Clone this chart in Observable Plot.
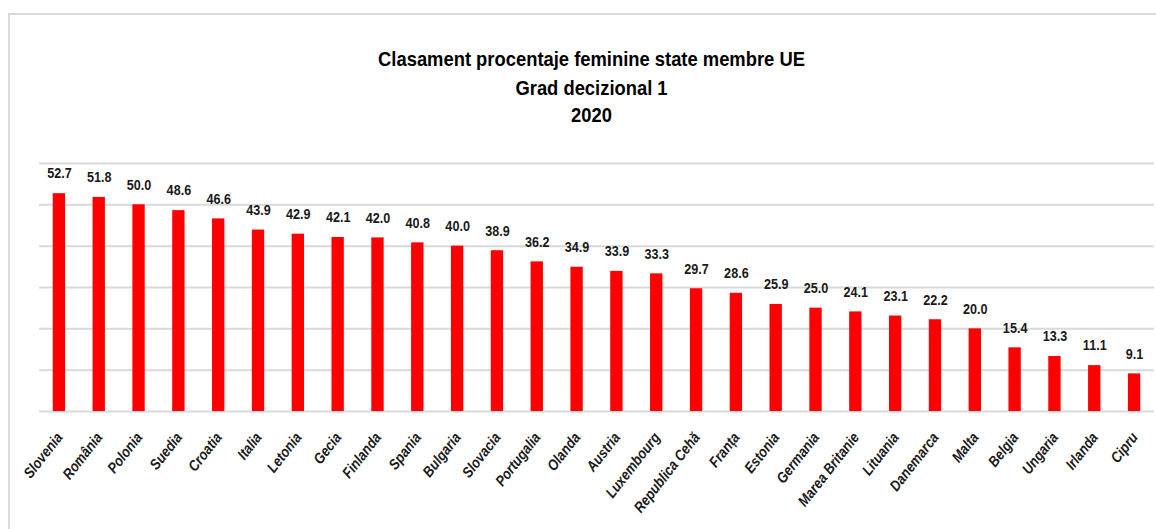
<!DOCTYPE html>
<html>
<head>
<meta charset="utf-8">
<script src="https://cdn.jsdelivr.net/npm/d3@7"></script>
<script src="https://cdn.jsdelivr.net/npm/@observablehq/plot@0.6"></script>
<style>
  html, body { margin: 0; padding: 0; background: #fff; overflow: hidden; }
  #wrap { position: relative; width: 1156px; height: 529px; }
  #border { position: absolute; left: 8px; top: 13px; width: 1300px; height: 700px;
            border: 2px solid #d9d9d9; box-sizing: border-box; }
  #chart { position: absolute; left: 0; top: 0; }
</style>
</head>
<body>
<div id="wrap"><div id="border"></div><div id="chart"></div></div>
<script>
const titleLines = ["Clasament procentaje feminine state membre UE", "Grad decizional 1", "2020"];
const countries = ["Slovenia", "România", "Polonia", "Suedia", "Croatia", "Italia", "Letonia", "Gecia",
  "Finlanda", "Spania", "Bulgaria", "Slovacia", "Portugalia", "Olanda", "Austria", "Luxembourg",
  "Republica Cehă", "Franța", "Estonia", "Germania", "Marea Britanie", "Lituania", "Danemarca",
  "Malta", "Belgia", "Ungaria", "Irlanda", "Cipru"];
const values = [52.7, 51.8, 50.0, 48.6, 46.6, 43.9, 42.9, 42.1, 42.0, 40.8, 40.0, 38.9, 36.2, 34.9,
  33.9, 33.3, 29.7, 28.6, 25.9, 25.0, 24.1, 23.1, 22.2, 20.0, 15.4, 13.3, 11.1, 9.1];
const yTicks = [0, 10, 20, 30, 40, 50, 60];

const data = countries.map((c, i) => ({country: c, value: values[i]}));
const font = "'Liberation Sans', Arial, sans-serif";

const chart = Plot.plot({
  width: 1156,
  height: 529,
  marginLeft: 39,
  marginRight: 2,
  marginTop: 163,
  marginBottom: 118,
  style: {fontFamily: font, background: "transparent"},
  x: {domain: countries, paddingInner: 0.69, paddingOuter: 0.345, align: 0.5, round: false, axis: null},
  y: {domain: [0, 60], axis: null},
  marks: [
    Plot.gridY(yTicks, {stroke: "#d9d9d9", strokeOpacity: 1, strokeWidth: 2}),
    Plot.barY(data, {x: "country", y: "value", fill: "#ff0000"}),
    Plot.text(data, {x: "country", y: "value", text: d => d.value.toFixed(1),
      dy: -20, fontWeight: "bold", fontSize: 15, fill: "#1a1a1a", className: "vlabel"}),
    Plot.text(countries, {x: d => d, frameAnchor: "bottom", rotate: -52, textAnchor: "end",
      dx: 4, dy: 26, fontWeight: "bold", fontStyle: "italic", fontSize: 15, fill: "#1a1a1a", className: "xlabel"}),
    Plot.text([titleLines[0]], {frameAnchor: "top", dx: -5.5, dy: -112.5, fontWeight: "bold", fontSize: 21, fill: "#000", className: "tlabel"}),
    Plot.text([titleLines[1]], {frameAnchor: "top", dx: -5.5, dy: -83.5, fontWeight: "bold", fontSize: 21, fill: "#000", className: "tlabel"}),
    Plot.text([titleLines[2]], {frameAnchor: "top", dx: -5.5, dy: -56.5, fontWeight: "bold", fontSize: 21, fill: "#000", className: "tlabel"})
  ]
});
document.getElementById("chart").appendChild(chart);

// Condense glyphs to mimic the narrow (Calibri-like) face of the original
function condense(selector, factor) {
  chart.querySelectorAll(selector + " text").forEach(t => {
    const w = t.getComputedTextLength();
    t.setAttribute("textLength", (w * factor).toFixed(2));
    t.setAttribute("lengthAdjust", "spacingAndGlyphs");
  });
}
condense(".tlabel", 0.875);
condense(".vlabel", 0.84);
condense(".xlabel", 0.86);
</script>
</body>
</html>
